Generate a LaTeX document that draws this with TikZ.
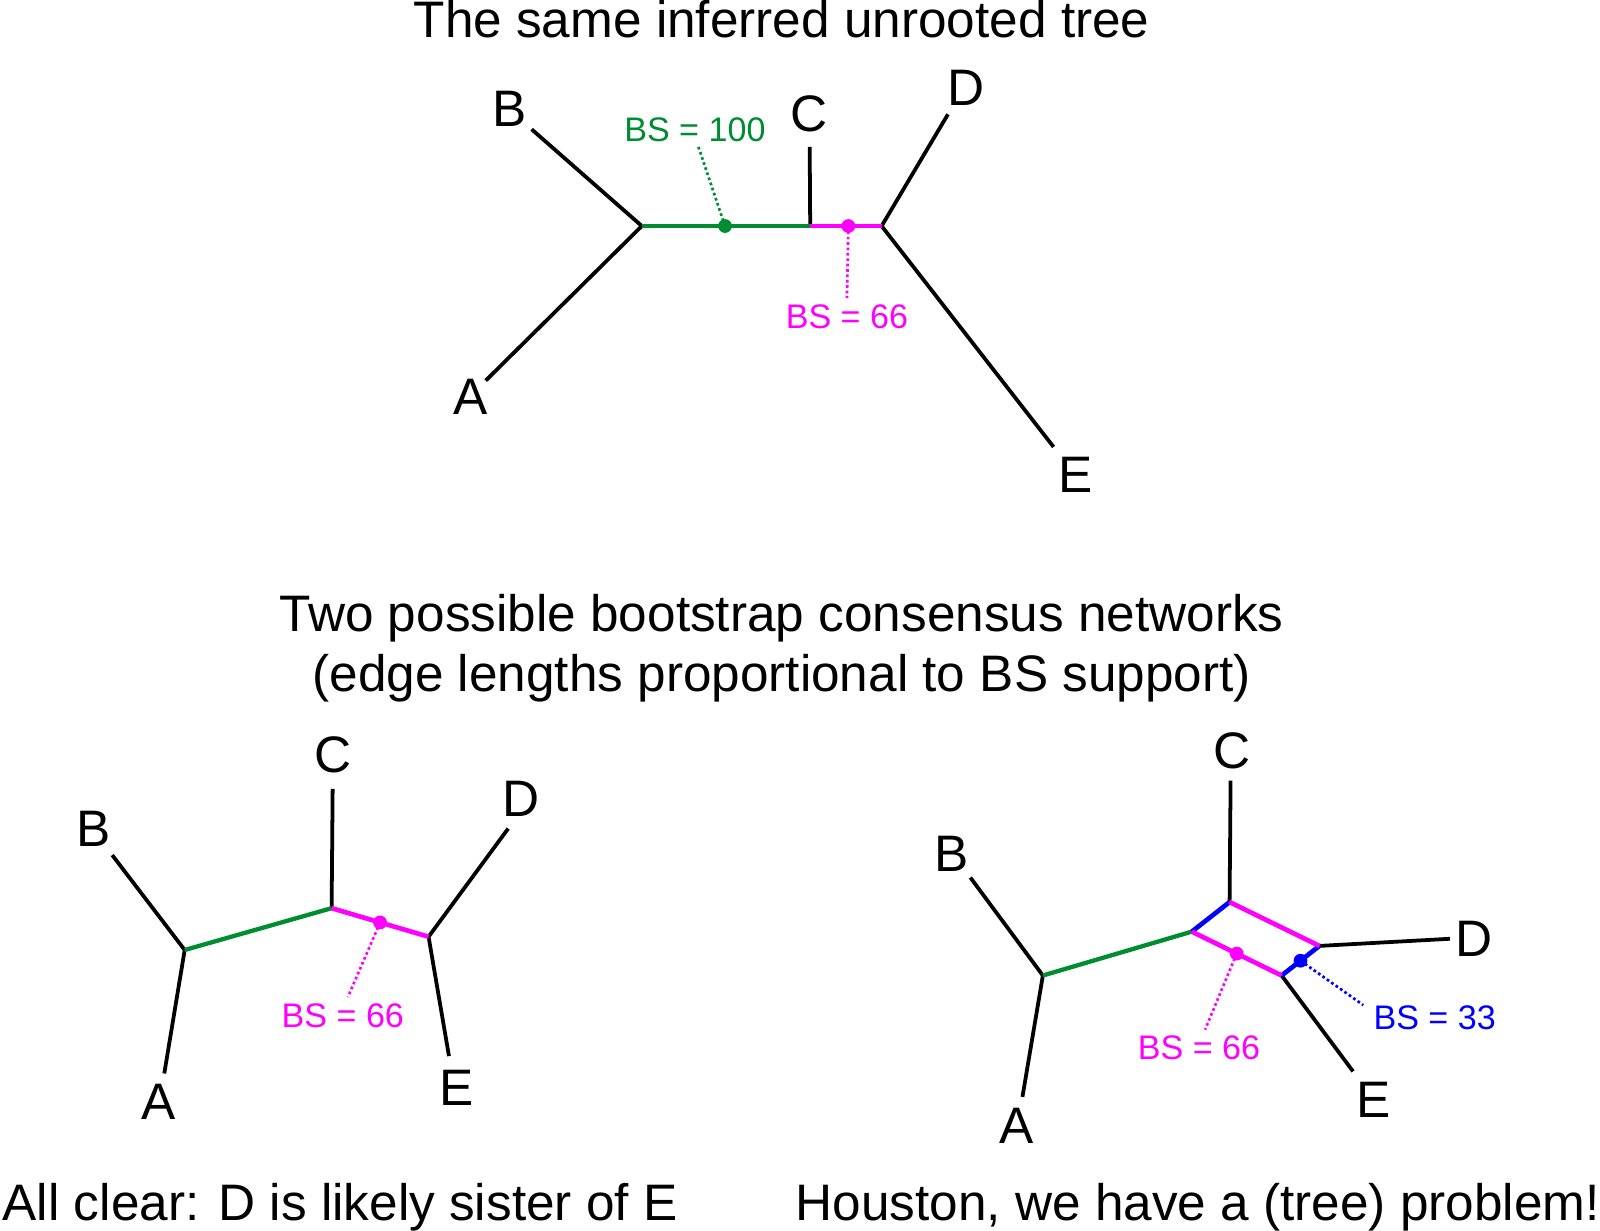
\documentclass[tikz,border=0pt]{standalone}
\usepackage{fontspec}
\setmainfont{Liberation Sans}
\usetikzlibrary{calc}
\definecolor{bsgreen}{RGB}{0,140,48}
\definecolor{bsmag}{RGB}{255,0,255}
\definecolor{bsblue}{RGB}{0,0,255}
\begin{document}
\begin{tikzpicture}[x=0.01cm,y=-0.01cm,
  edge/.style={line width=1.05pt, line join=round},
  gedge/.style={line width=1.2pt, draw=bsgreen},
  medge/.style={line width=1.3pt, draw=bsmag},
  bedge/.style={line width=1.3pt, draw=bsblue},
  leader/.style={line width=0.75pt, dash pattern=on 0.75pt off 0.75pt},
  bsdot/.style={circle, inner sep=0pt, minimum size=0.135cm},
  taxon/.style={font=\fontsize{14.3}{17}\selectfont, anchor=base, inner sep=0pt},
  bigtext/.style={font=\fontsize{14.3}{17}\selectfont, anchor=base, inner sep=0pt},
  bslabel/.style={font=\fontsize{9.5}{11}\selectfont, anchor=base, inner sep=0pt}]
\useasboundingbox (0,0) rectangle (1568,1206);

% ---------------- titles ----------------
\node[bigtext] (t1) at (766,36.6) {The same inferred unrooted tree};
\node[bigtext] (t2a) at (766,619) {Two possible bootstrap consensus networks};
\node[bigtext] (t2b) at (766,678) {(edge lengths proportional to BS support)};
\node[bigtext, anchor=base west] (cap1) at (2,1195.6) {All clear: D is likely sister of E};
\node[bigtext, anchor=base west] (cap2) at (779,1195.6) {Houston, we have a (tree) problem!};

% ---------------- top tree ----------------
\coordinate (ta1) at (629,221.5);
\coordinate (ta2) at (794,221.5);
\coordinate (ta3) at (864,221.5);
\coordinate (tB) at (521,126.7);
\coordinate (tA) at (476,373);
\coordinate (tC) at (793.5,144);
\coordinate (tD) at (929,112);
\coordinate (tE) at (1032.5,438);
\coordinate (tgl) at (684.4,143.7);
\coordinate (tml) at (830,292);

\draw[edge] (tB) -- (ta1) -- (tA);
\draw[edge] (ta2) -- (tC);
\draw[edge] (tD) -- (ta3) -- (tE);
\draw[gedge] (ta1) -- (ta2);
\draw[medge] (ta2) -- (ta3);
\node[bsdot, fill=bsgreen] (tgd) at (710.5,221.5) {};
\node[bsdot, fill=bsmag] (tmd) at (831.4,221.5) {};
\draw[leader, draw=bsgreen] (tgd.center) -- (tgl);
\draw[leader, draw=bsmag] (tmd.center) -- (tml);

\node[taxon] (tlB) at (499,124) {B};
\node[taxon] (tlA) at (461,406) {A};
\node[taxon] (tlC) at (793,129) {C};
\node[taxon] (tlD) at (947,103) {D};
\node[taxon] (tlE) at (1054,483) {E};
\node[bslabel, text=bsgreen] (tbs1) at (681,139) {BS = 100};
\node[bslabel, text=bsmag] (tbs2) at (830,322) {BS = 66};

% ---------------- bottom left network ----------------
\coordinate (la1) at (181,931);
\coordinate (la2) at (325,890);
\coordinate (la3) at (420,918);
\coordinate (lB) at (110,838);
\coordinate (lA) at (161,1052);
\coordinate (lC) at (326,773);
\coordinate (lD) at (498,812);
\coordinate (lE) at (440,1035);
\coordinate (lml) at (341,977);

\draw[edge] (lB) -- (la1) -- (lA);
\draw[edge] (la2) -- (lC);
\draw[edge] (lD) -- (la3) -- (lE);
\draw[gedge] (la1) -- (la2);
\draw[medge] (la2) -- (la3);
\node[bsdot, fill=bsmag] (lmd) at ($(la2)!0.5!(la3)$) {};
\draw[leader, draw=bsmag] (lmd.center) -- (lml);

\node[taxon] (llB) at (92,830) {B};
\node[taxon] (llA) at (155,1097) {A};
\node[taxon] (llC) at (326,757) {C};
\node[taxon] (llD) at (511,800) {D};
\node[taxon] (llE) at (447,1083) {E};
\node[bslabel, text=bsmag] (lbs) at (336,1007) {BS = 66};

% ---------------- bottom right network ----------------
\coordinate (ra1) at (1022,956);
\coordinate (rp1) at (1168,913);
\coordinate (rp2) at (1205,884);
\coordinate (rp3) at (1293,927);
\coordinate (rp4) at (1256,956);
\coordinate (rB) at (951,860);
\coordinate (rA) at (1002,1075);
\coordinate (rC) at (1206,765);
\coordinate (rD) at (1421,920);
\coordinate (rE) at (1326,1050);
\coordinate (rml) at (1181,1009);
\coordinate (rbl) at (1336,985);

\draw[edge] (rB) -- (ra1) -- (rA);
\draw[edge] (rp2) -- (rC);
\draw[edge] (rp3) -- (rD);
\draw[edge] (rp4) -- (rE);
\draw[gedge] (ra1) -- (rp1);
\draw[bedge] (rp1) -- (rp2);
\draw[bedge] (rp4) -- (rp3);
\draw[medge] (rp2) -- (rp3);
\draw[medge] (rp1) -- (rp4);
\node[bsdot, fill=bsmag] (rmd) at ($(rp1)!0.5!(rp4)$) {};
\node[bsdot, fill=bsblue] (rbd) at ($(rp4)!0.5!(rp3)$) {};
\draw[leader, draw=bsmag] (rmd.center) -- (rml);
\draw[leader, draw=bsblue] (rbd.center) -- (rbl);

\node[taxon] (rlB) at (933,854) {B};
\node[taxon] (rlA) at (996,1121) {A};
\node[taxon] (rlC) at (1207,753) {C};
\node[taxon] (rlD) at (1445,937) {D};
\node[taxon] (rlE) at (1346,1095) {E};
\node[bslabel, text=bsmag] (rbs1) at (1175,1038) {BS = 66};
\node[bslabel, text=bsblue] (rbs2) at (1406,1009) {BS = 33};
\end{tikzpicture}
\end{document}
